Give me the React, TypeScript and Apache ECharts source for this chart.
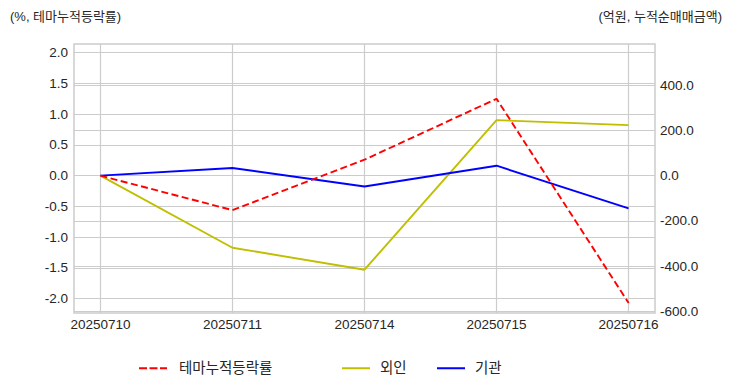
import React, { useEffect, useRef } from "react";
import * as echarts from "echarts";

const categories = ["20250710", "20250711", "20250714", "20250715", "20250716"];
const themeRate = [0, -0.56, 0.26, 1.25, -2.07];
const foreign = [0, -318, -415, 245, 223];
const institution = [0, 34, -48, 44, -144];
const leftTicks = [-2.0, -1.5, -1.0, -0.5, 0.0, 0.5, 1.0, 1.5, 2.0];
const rightTicks = [-600, -400, -200, 0, 200, 400];

const FONT = "'Liberation Sans', 'Noto Sans CJK KR', sans-serif";
const TXT = "#262626";
const GRID = "#cccccc";

export default function App() {
  const ref = useRef<HTMLDivElement>(null);
  useEffect(() => {
    const chart = echarts.init(ref.current!, undefined, { renderer: "svg" });
    const xTicks = categories.map((_, i) => i);
    const legendBase = {
      top: 361,
      padding: 0,
      itemWidth: 28,
      itemHeight: 2,
    };
    chart.setOption({
      animation: false,
      textStyle: { fontFamily: FONT },
      title: [
        { text: "(%, 테마누적등락률)", left: 10, top: 10, padding: 0, textStyle: { fontSize: 13, fontWeight: "normal", color: TXT, fontFamily: FONT } },
        { text: "(억원, 누적순매매금액)", right: 10, top: 10, padding: 0, textStyle: { fontSize: 13, fontWeight: "normal", color: TXT, fontFamily: FONT } },
      ],
      legend: [
        {
          ...legendBase,
          data: [{ name: "테마누적등락률", icon: "path://M0,0h8v2h-8z M10.5,0h8v2h-8z M21,0h7v2h-7z" }],
          left: 139,
          textStyle: { fontSize: 14.5, color: TXT, padding: [0, 0, 0, 7], fontFamily: FONT },
        },
        {
          ...legendBase,
          data: [{ name: "외인", icon: "rect" }],
          left: 342,
          textStyle: { fontSize: 14.5, color: TXT, padding: [0, 0, 0, 5], fontFamily: FONT },
        },
        {
          ...legendBase,
          data: [{ name: "기관", icon: "rect" }],
          left: 437,
          textStyle: { fontSize: 14.5, color: TXT, padding: [0, 0, 0, 5], fontFamily: FONT },
        },
      ],
      grid: { left: 74, top: 44, right: 77, bottom: 79, show: true, borderColor: GRID, borderWidth: 1.5, backgroundColor: "transparent" },
      xAxis: {
        type: "value",
        min: -0.2,
        max: 4.2,
        axisLine: { show: false },
        axisTick: { show: false, customValues: xTicks },
        axisLabel: {
          fontSize: 13.5,
          color: TXT,
          margin: 5,
          customValues: xTicks,
          formatter: (v: number) => categories[Math.round(v)] ?? "",
        },
        splitLine: { show: true, lineStyle: { color: GRID, width: 1.2 } },
      },
      yAxis: [
        {
          type: "value",
          min: -2.233,
          max: 2.141,
          position: "left",
          axisLine: { show: false },
          axisTick: { show: false, customValues: leftTicks },
          axisLabel: {
            fontSize: 13.5,
            color: TXT,
            margin: 6,
            customValues: leftTicks,
            formatter: (v: number) => v.toFixed(1),
          },
          splitLine: { show: true, lineStyle: { color: GRID, width: 1.2 } },
        },
        {
          type: "value",
          min: -606,
          max: 581,
          position: "right",
          axisLine: { show: false },
          axisTick: { show: false, customValues: rightTicks },
          axisLabel: {
            fontSize: 13.5,
            color: TXT,
            margin: 5,
            customValues: rightTicks,
            formatter: (v: number) => v.toFixed(1),
          },
          splitLine: { show: true, lineStyle: { color: GRID, width: 1.2 } },
        },
      ],
      series: [
        {
          name: "테마누적등락률",
          type: "line",
          yAxisIndex: 0,
          symbol: "none",
          data: themeRate.map((v, i) => [i, v]),
          lineStyle: { color: "#ff0000", width: 1.9, type: [7, 3.5] },
          itemStyle: { color: "#ff0000" },
          z: 5,
        },
        {
          name: "외인",
          type: "line",
          yAxisIndex: 1,
          symbol: "none",
          data: foreign.map((v, i) => [i, v]),
          lineStyle: { color: "#bfbf00", width: 1.9 },
          itemStyle: { color: "#bfbf00" },
          z: 4,
        },
        {
          name: "기관",
          type: "line",
          yAxisIndex: 1,
          symbol: "none",
          data: institution.map((v, i) => [i, v]),
          lineStyle: { color: "#0000ff", width: 1.9 },
          itemStyle: { color: "#0000ff" },
          z: 4,
        },
      ],
    });
    return () => chart.dispose();
  }, []);
  return <div ref={ref} style={{ position: "absolute", left: 0, top: 0, width: 732, height: 392, background: "#fff" }} />;
}
